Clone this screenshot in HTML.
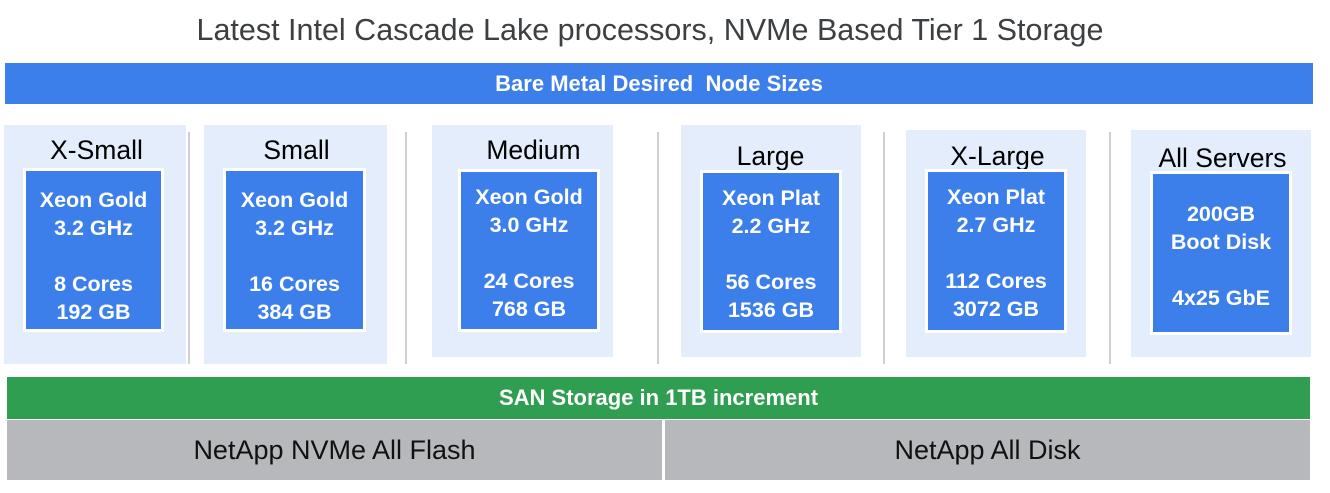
<!DOCTYPE html>
<html><head><meta charset="utf-8"><style>
body{margin:0;width:1330px;height:493px;background:#fff;position:relative;overflow:hidden;font-family:"Liberation Sans",sans-serif}
.a{position:absolute}
.t{left:0;width:1300px;top:13px;text-align:center;font-size:30.5px;color:#3c4043;white-space:nowrap}
.bar{display:flex;align-items:center;justify-content:center;color:#fff;font-weight:bold;font-size:22px}
.p{background:#e3edfb}
.h{font-size:26.5px;color:#000;text-align:center;white-space:nowrap}
.b{background:#3d7fea;border:3px solid #fff;box-sizing:border-box;color:#fff;font-weight:bold;font-size:21.5px;line-height:28px;text-align:center;padding-top:15px;white-space:nowrap}
.d{width:2px;background:#d0d0d0;top:132px;height:232px}
.g{display:flex;align-items:center;justify-content:center;font-size:27px;color:#111;background:#b6b8bb}
</style></head><body>
<div class="a t">Latest Intel Cascade Lake processors, NVMe Based Tier 1 Storage</div>
<div class="a bar" style="left:5px;top:63px;width:1308px;height:41px;background:#3d7fea">Bare Metal Desired&nbsp; Node Sizes</div>

<div class="a p" style="left:4px;top:125px;width:182px;height:239px"></div>
<div class="a h" style="left:4px;top:135px;width:185px">X-Small</div>
<div class="a b" style="left:23px;top:168px;width:141px;height:164px">Xeon Gold<br>3.2 GHz<br><br>8 Cores<br>192 GB</div>
<div class="a d" style="left:188px"></div>

<div class="a p" style="left:204px;top:125px;width:183px;height:239px"></div>
<div class="a h" style="left:204px;top:135px;width:185px">Small</div>
<div class="a b" style="left:223px;top:168px;width:143px;height:164px">Xeon Gold<br>3.2 GHz<br><br>16 Cores<br>384 GB</div>
<div class="a d" style="left:405px"></div>

<div class="a p" style="left:432px;top:125px;width:181px;height:232px"></div>
<div class="a h" style="left:441px;top:135px;width:185px">Medium</div>
<div class="a b" style="left:458px;top:169px;width:142px;height:163px;padding-top:11px">Xeon Gold<br>3.0 GHz<br><br>24 Cores<br>768 GB</div>
<div class="a d" style="left:657px"></div>

<div class="a p" style="left:681px;top:125px;width:180px;height:232px"></div>
<div class="a h" style="left:678px;top:141px;width:185px">Large</div>
<div class="a b" style="left:700px;top:170px;width:142px;height:163px;padding-top:11px">Xeon Plat<br>2.2 GHz<br><br>56 Cores<br>1536 GB</div>
<div class="a d" style="left:883px"></div>

<div class="a p" style="left:906px;top:130px;width:180px;height:227px"></div>
<div class="a h" style="left:905px;top:141px;width:185px">X-Large</div>
<div class="a b" style="left:925px;top:169px;width:142px;height:164px;padding-top:11px">Xeon Plat<br>2.7 GHz<br><br>112 Cores<br>3072 GB</div>
<div class="a d" style="left:1109px"></div>

<div class="a p" style="left:1131px;top:130px;width:180px;height:227px"></div>
<div class="a h" style="left:1130px;top:143px;width:185px">All Servers</div>
<div class="a b" style="left:1150px;top:171px;width:142px;height:164px;padding-top:26px">200GB<br>Boot Disk<br><br>4x25 GbE</div>

<div class="a bar" style="left:7px;top:377px;width:1303px;height:42px;background:#2f9e50">SAN Storage in 1TB increment</div>
<div class="a g" style="left:7px;top:420px;width:655px;height:60px">NetApp NVMe All Flash</div>
<div class="a g" style="left:665px;top:420px;width:645px;height:60px">NetApp All Disk</div>
</body></html>
